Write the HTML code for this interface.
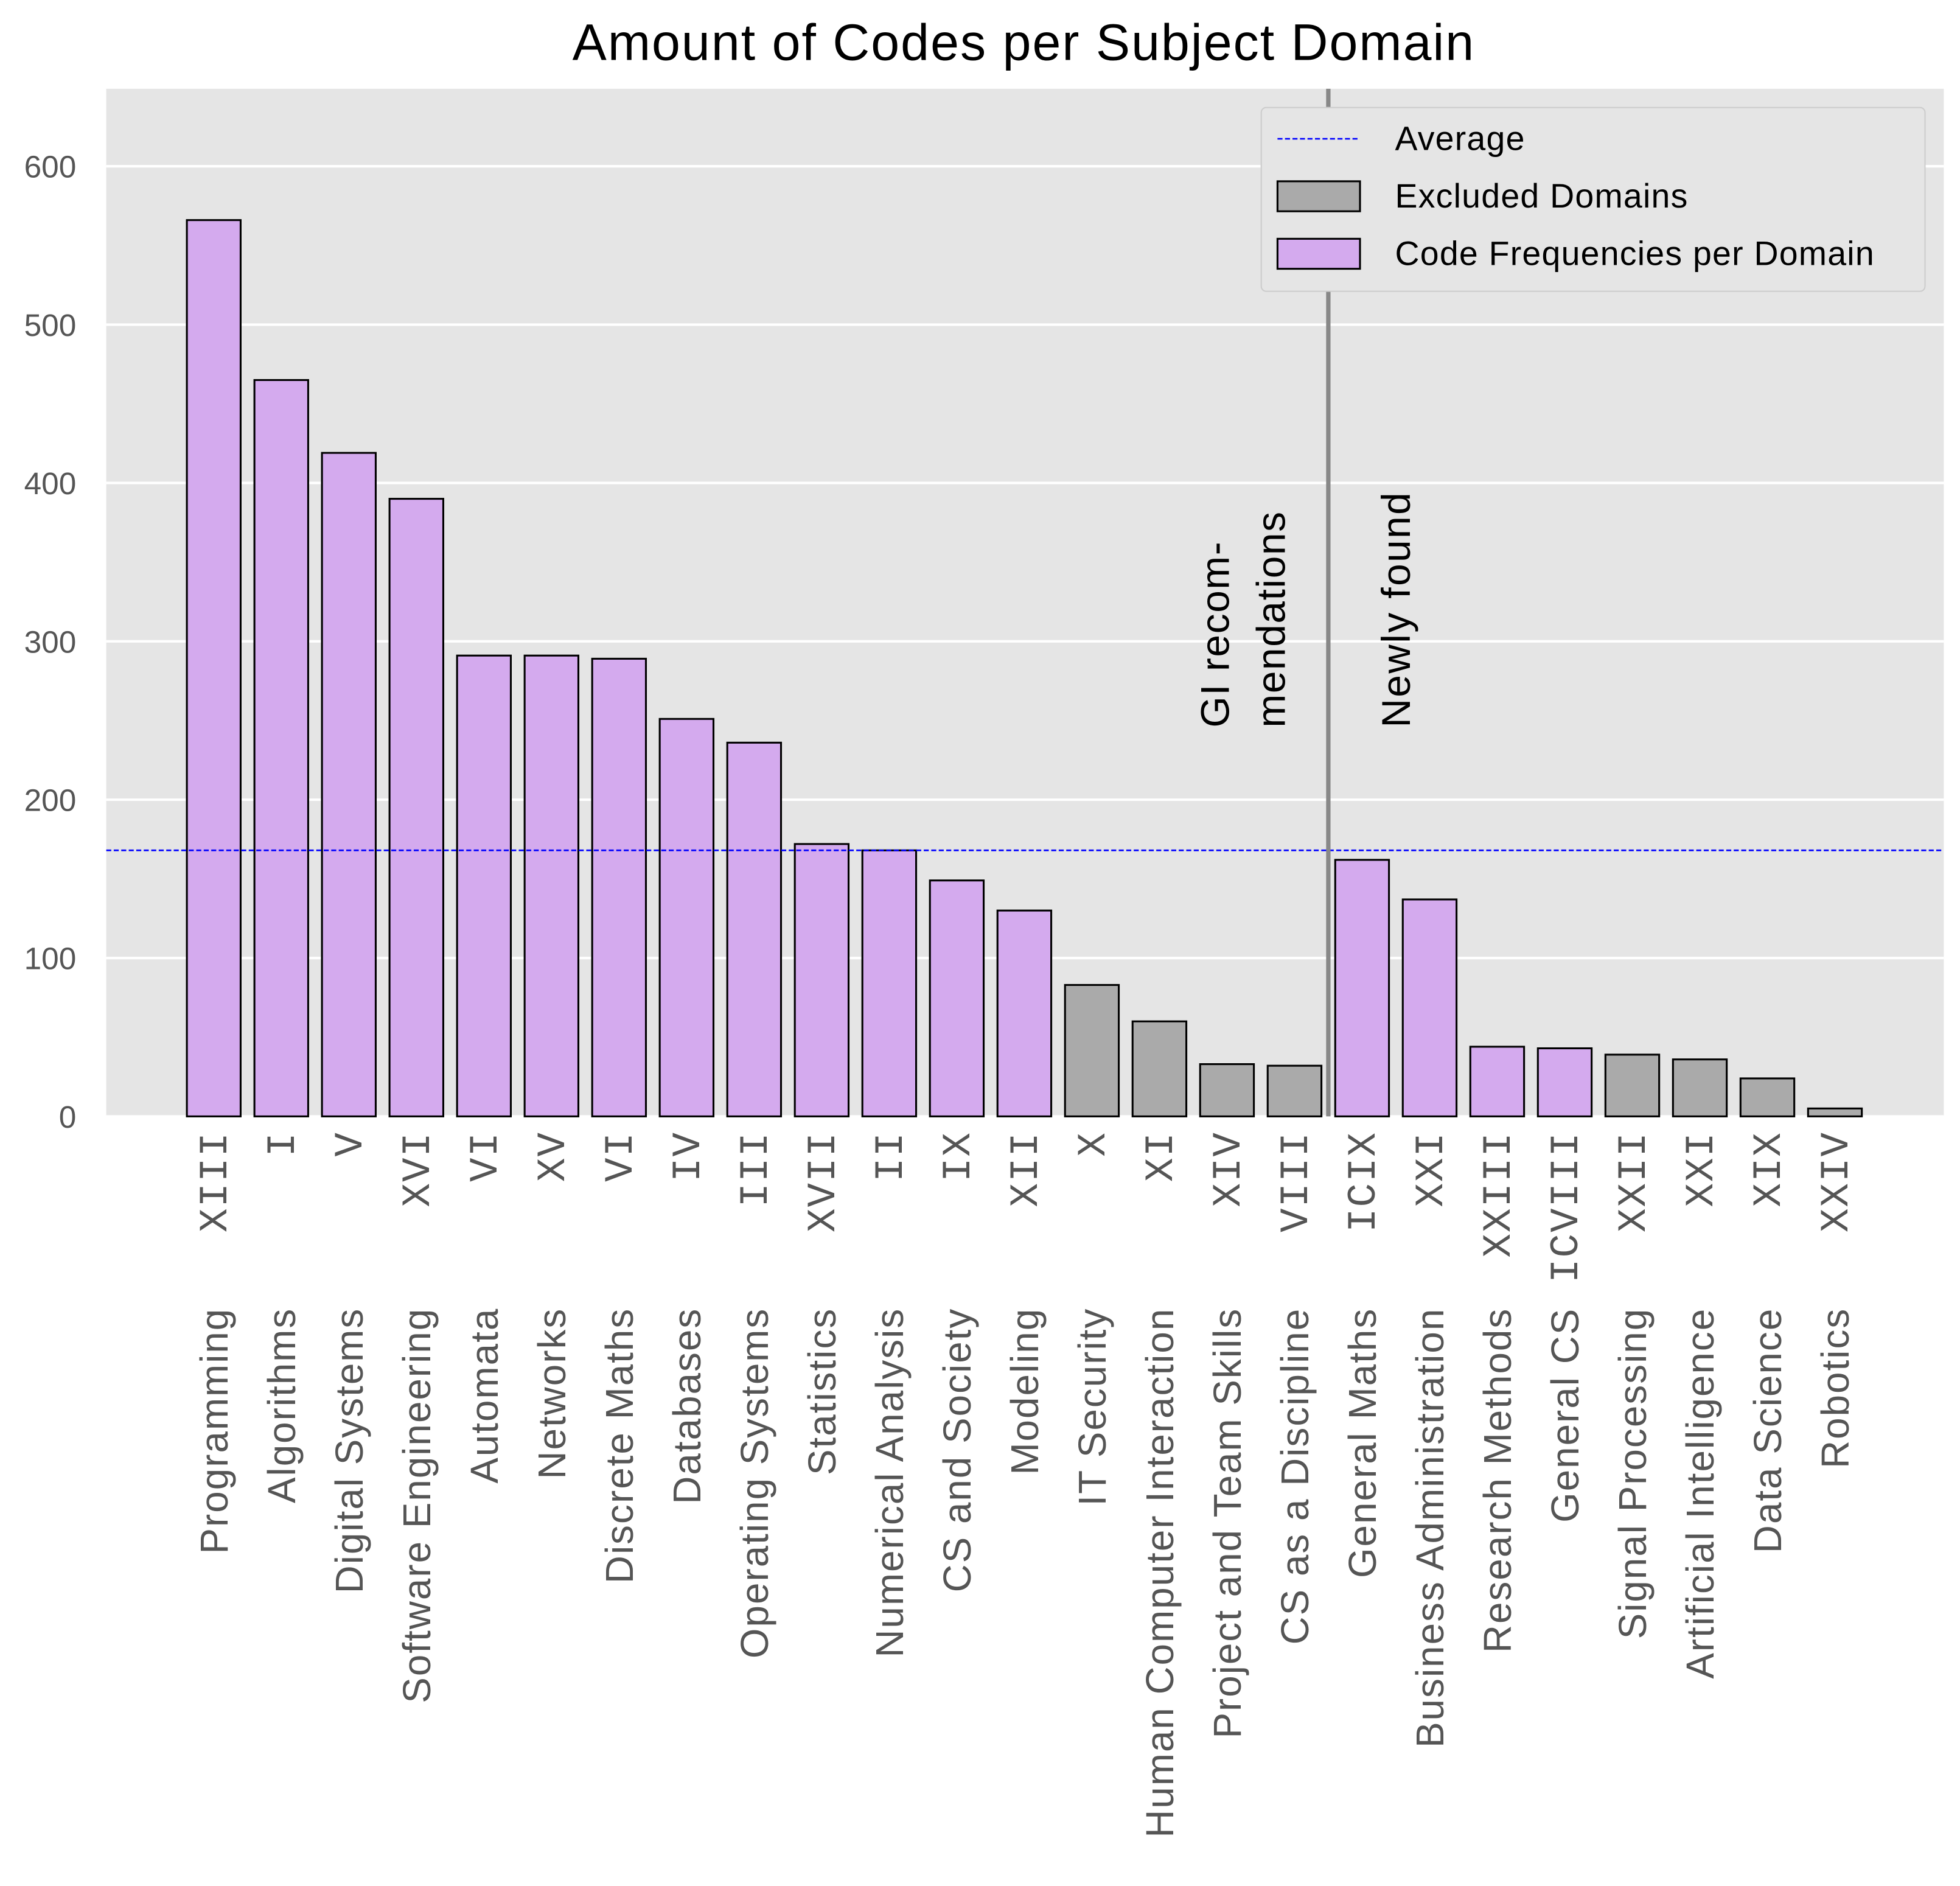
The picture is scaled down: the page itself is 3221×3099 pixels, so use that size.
<!DOCTYPE html>
<html><head><meta charset="utf-8"><style>
html,body{margin:0;padding:0;background:#fff;}
svg{display:block;}
</style></head><body>
<svg id="chart" width="3221" height="3099" viewBox="0 0 1568 1508.6" xmlns="http://www.w3.org/2000/svg" font-family="'Liberation Sans', sans-serif">
<rect x="85" y="71" width="1470" height="822" fill="#e5e5e5"/>
<g id="grid"></g>
<g id="bars"></g>
<g id="labels"></g>
<text x="819" y="48" font-size="41" letter-spacing="1" text-anchor="middle" fill="#000">Amount of Codes per Subject Domain</text>
<text transform="translate(983,582) rotate(-90)" font-size="32" letter-spacing="0.8" fill="#000">GI recom-</text>
<text transform="translate(1028,582) rotate(-90)" font-size="32" letter-spacing="0.8" fill="#000">mendations</text>
<text transform="translate(1128,582) rotate(-90)" font-size="32" letter-spacing="1.2" fill="#000">Newly found</text>
<g>
<rect x="1009" y="86" width="531" height="147" rx="4" fill="#e5e5e5" stroke="#cccccc"/>
<line x1="1022" y1="111" x2="1088" y2="111" stroke="#0000ff" stroke-width="1.3" stroke-dasharray="4,2"/>
<text x="1116" y="120" font-size="27" letter-spacing="0.6" fill="#000">Average</text>
<rect x="1022" y="145" width="66" height="24" fill="#aaaaaa" stroke="#000" stroke-width="1.5"/>
<text x="1116" y="166" font-size="27" letter-spacing="0.6" fill="#000">Excluded Domains</text>
<rect x="1022" y="191" width="66" height="24" fill="#d4aaee" stroke="#000" stroke-width="1.5"/>
<text x="1116" y="212" font-size="27" letter-spacing="0.6" fill="#000">Code Frequencies per Domain</text>
</g>
</svg>
<script>
const categories = ["Programming","Algorithms","Digital Systems","Software Engineering","Automata","Networks","Discrete Maths","Databases","Operating Systems","Statistics","Numerical Analysis","CS and Society","Modeling","IT Security","Human Computer Interaction","Project and Team Skills","CS as a Discipline","General Maths","Business Administration","Research Methods","General CS","Signal Processing","Artificial Intelligence","Data Science","Robotics"];
const numerals = ["XIII","I","V","XVI","VI","XV","VI","IV","III","XVII","II","IX","XII","X","XI","XIV","VIII","ICIX","XXI","XXIII","ICVIII","XXII","XXI","XIX","XXIV"];
const values = [566,465,419,390,291,291,289,251,236,172,168,149,130,83,60,33,32,162,137,44,43,39,36,24,5];
const excluded = [0,0,0,0,0,0,0,0,0,0,0,0,0,1,1,1,1,0,0,0,0,1,1,1,1];
const yTicks = [0,100,200,300,400,500,600];
const average = [168];
const splitAfter = [16];

const NS="http://www.w3.org/2000/svg";
const y0=893, pxPer=1.2667, x0=171, step=54.04, bw=43;
const yS=v=>y0-v*pxPer;
const xS=i=>x0+i*step;
function mk(tag,attrs,parent){const e=document.createElementNS(NS,tag);for(const k in attrs)e.setAttribute(k,attrs[k]);parent.appendChild(e);return e;}
const grid=document.getElementById('grid'),bars=document.getElementById('bars'),labels=document.getElementById('labels');
yTicks.forEach(t=>{
  const l=mk('line',{x1:85,x2:1555,y1:yS(t),y2:yS(t),stroke:'#fff','stroke-width':2},grid);
  
  
  const tx=mk('text',{x:61,y:yS(t)+9,'font-size':25,'text-anchor':'end',fill:'#555'},labels);
  tx.textContent=t;
  
  
});
values.forEach((v,i)=>{
  const r=mk('rect',{x:xS(i)-bw/2,y:yS(v),width:bw,height:v*pxPer,fill:excluded[i]?'#aaaaaa':'#d4aaee',stroke:'#000','stroke-width':1.5},bars);
  
  
  const n=mk('text',{transform:`translate(${xS(i)+10},905) rotate(-90)`,'font-size':32,'letter-spacing':1,'text-anchor':'end',fill:'#555','font-family':"'Liberation Mono', monospace"},labels);
  n.textContent=numerals[i];
  
  
  const c=mk('text',{transform:`translate(${xS(i)+11},1046) rotate(-90)`,'font-size':31,'letter-spacing':1,'text-anchor':'end',fill:'#555'},labels);
  c.textContent=categories[i];
  
  
});
const av=mk('line',{x1:85,x2:1555,y1:yS(average[0]),y2:yS(average[0]),stroke:'#0000ff','stroke-width':1.3,'stroke-dasharray':'4,2'},bars);


const sx=(xS(splitAfter[0])+xS(splitAfter[0]+1))/2;
const sp=mk('line',{x1:sx,x2:sx,y1:71,y2:893,stroke:'#888','stroke-width':3.5},bars);


</script>
</body></html>
